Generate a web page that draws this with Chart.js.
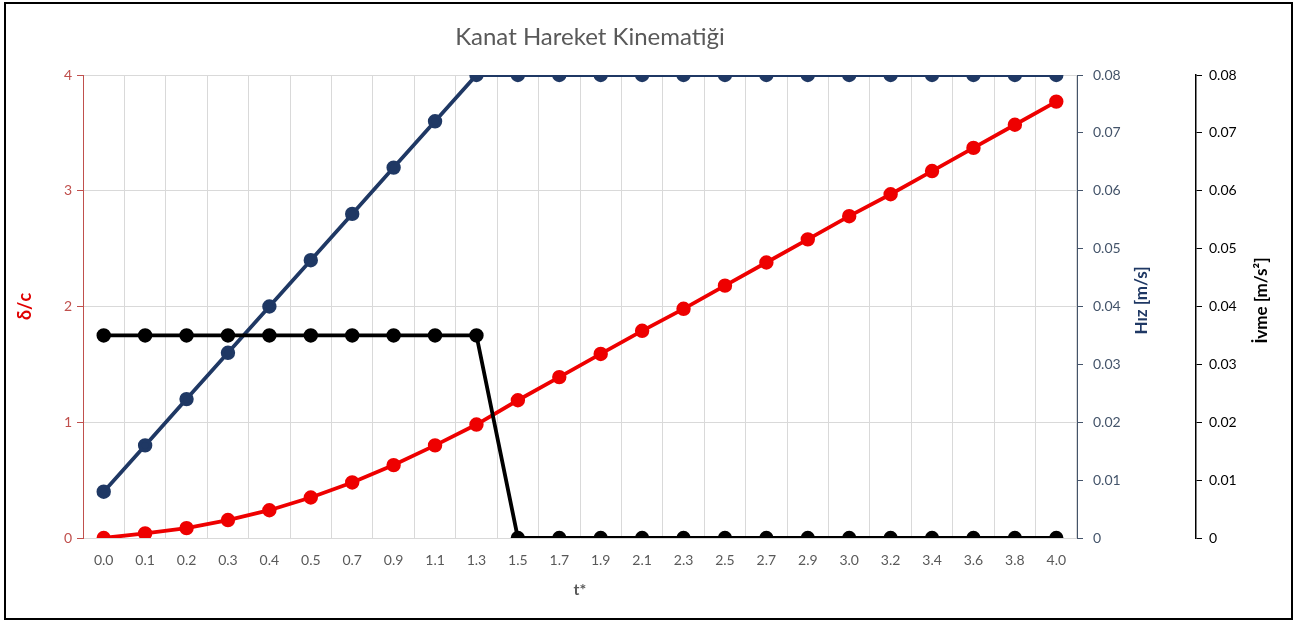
<!DOCTYPE html>
<html>
<head>
<meta charset="utf-8">
<script src="https://cdn.jsdelivr.net/npm/chart.js@4/dist/chart.umd.min.js"></script>
<style>
  html, body { margin: 0; padding: 0; background: #fff; }
  .wrap { position: relative; width: 1297px; height: 623px; }
  #kinChart { position: absolute; left: 0; top: 0; }
  .frame { position: absolute; left: 4px; top: 2px; width: 1285px; height: 614px; border: 2px solid #000; pointer-events: none; }
</style>
</head>
<body>
<div class="wrap">
  <canvas id="kinChart" width="1297" height="623"></canvas>
  <div class="frame"></div>
</div>
<script>
// t* kategorileri
const tLabels = ['0.0','0.1','0.2','0.3','0.4','0.5','0.7','0.9','1.1','1.3','1.5','1.7','1.9','2.1','2.3','2.5','2.7','2.9','3.0','3.2','3.4','3.6','3.8','4.0'];

// δ/c
const deltaC = [0, 0.04, 0.085, 0.155, 0.24, 0.35, 0.48, 0.63, 0.80, 0.98, 1.19, 1.39, 1.59, 1.79, 1.98, 2.18, 2.38, 2.58, 2.78, 2.97, 3.17, 3.37, 3.57, 3.77];

// Hız [m/s]
const hiz = [0.008, 0.016, 0.024, 0.032, 0.040, 0.048, 0.056, 0.064, 0.072, 0.080, 0.080, 0.080, 0.080, 0.080, 0.080, 0.080, 0.080, 0.080, 0.080, 0.080, 0.080, 0.080, 0.080, 0.080];

// İvme [m/s²]
const ivme = [0.035, 0.035, 0.035, 0.035, 0.035, 0.035, 0.035, 0.035, 0.035, 0.035, 0, 0, 0, 0, 0, 0, 0, 0, 0, 0, 0, 0, 0, 0];

const deltaTicks = [0, 1, 2, 3, 4];

const FONT = "Lato, 'Open Sans', sans-serif";

function fmt2(v) {
  return v === 0 ? '0' : v.toFixed(2);
}

function lineSet(label, data, color, axis) {
  return {
    label: label,
    data: data,
    yAxisID: axis,
    borderColor: color,
    backgroundColor: color,
    borderWidth: 3.8,
    pointRadius: 5.3,
    pointHoverRadius: 5.3,
    pointBackgroundColor: color,
    pointBorderColor: color,
    tension: 0,
    fill: false
  };
}

// başlık (grafik alanının ortasına) + sağ eksen başlıkları aşağıdan yukarı
const extraTitles = {
  id: 'extraTitles',
  afterDraw(chart) {
    const c = chart.ctx;
    const area = chart.chartArea;
    c.save();
    c.font = '24px ' + FONT;
    c.fillStyle = '#595959';
    c.textAlign = 'center';
    c.textBaseline = 'middle';
    c.fillText('Kanat Hareket Kinematiği', (area.left + area.right) / 2 + 10, 37);

    const midY = (area.top + area.bottom) / 2 - 6;
    const items = [
      { text: 'Hız [m/s]', color: '#1f3864', x: chart.scales.yHiz.left + 65 },
      { text: 'İvme [m/s²]', color: '#000000', x: chart.scales.yIvme.left + 66 }
    ];
    c.font = 'bold 17px ' + FONT;
    items.forEach(it => {
      c.save();
      c.translate(it.x, midY);
      c.rotate(-Math.PI / 2);
      c.fillStyle = it.color;
      c.fillText(it.text, 0, 0);
      c.restore();
    });
    c.restore();
  }
};

const ctx = document.getElementById('kinChart');
const kinChart = new Chart(ctx, {
  type: 'line',
  data: {
    labels: tLabels,
    datasets: [
      lineSet('İvme', ivme, '#000000', 'yIvme'),
      lineSet('Hız', hiz, '#1f3864', 'yHiz'),
      lineSet('δ/c', deltaC, '#ee0000', 'y')
    ]
  },
  plugins: [extraTitles],
  options: {
    responsive: false,
    animation: false,
    layout: { padding: { left: 0, right: 0, top: 75, bottom: 0 } },
    plugins: {
      legend: { display: false },
      tooltip: { enabled: false },
      title: { display: false }
    },
    scales: {
      x: {
        offset: true,
        grid: { offset: true, color: '#d9d9d9', lineWidth: 1, drawTicks: false },
        border: { display: false },
        ticks: { color: '#595959', font: { family: FONT, size: 14 }, padding: 14, maxRotation: 0, autoSkip: false },
        title: {
          display: true,
          text: 't*',
          color: '#595959',
          font: { family: FONT, size: 16, weight: 'bold' },
          padding: { top: 6, bottom: 24 }
        },
        afterFit: function (s) { s.height = 85; }
      },
      y: {
        position: 'left',
        min: 0,
        max: 4,
        afterBuildTicks: function (s) { s.ticks = deltaTicks.map(v => ({ value: v })); },
        grid: { color: '#d9d9d9', tickLength: 6, tickColor: '#c0504d' },
        border: { display: true, color: '#c0504d' },
        ticks: { color: '#c0504d', font: { family: FONT, size: 14 }, padding: 5 },
        title: {
          display: true,
          text: 'δ/c',
          color: '#e00000',
          font: { family: FONT, size: 18, weight: 'bold' },
          padding: { top: 14, bottom: 0 }
        },
        afterFit: function (s) { s.width = 83; }
      },
      yHiz: {
        position: 'right',
        weight: 1,
        min: 0,
        max: 0.08,
        grid: { drawOnChartArea: false, tickLength: 6, tickColor: '#44546a' },
        border: { display: true, color: '#44546a' },
        ticks: { stepSize: 0.01, color: '#44546a', font: { family: FONT, size: 14 }, padding: 10, callback: fmt2 },
        afterFit: function (s) { s.width = 119; }
      },
      yIvme: {
        position: 'right',
        weight: 2,
        min: 0,
        max: 0.08,
        grid: { drawOnChartArea: false, tickLength: 6, tickColor: '#000000' },
        border: { display: true, color: '#000000', width: 1.5 },
        ticks: { stepSize: 0.01, color: '#000000', font: { family: FONT, size: 14 }, padding: 7, callback: fmt2 },
        afterFit: function (s) { s.width = 101; }
      }
    }
  }
});
</script>
</body>
</html>
